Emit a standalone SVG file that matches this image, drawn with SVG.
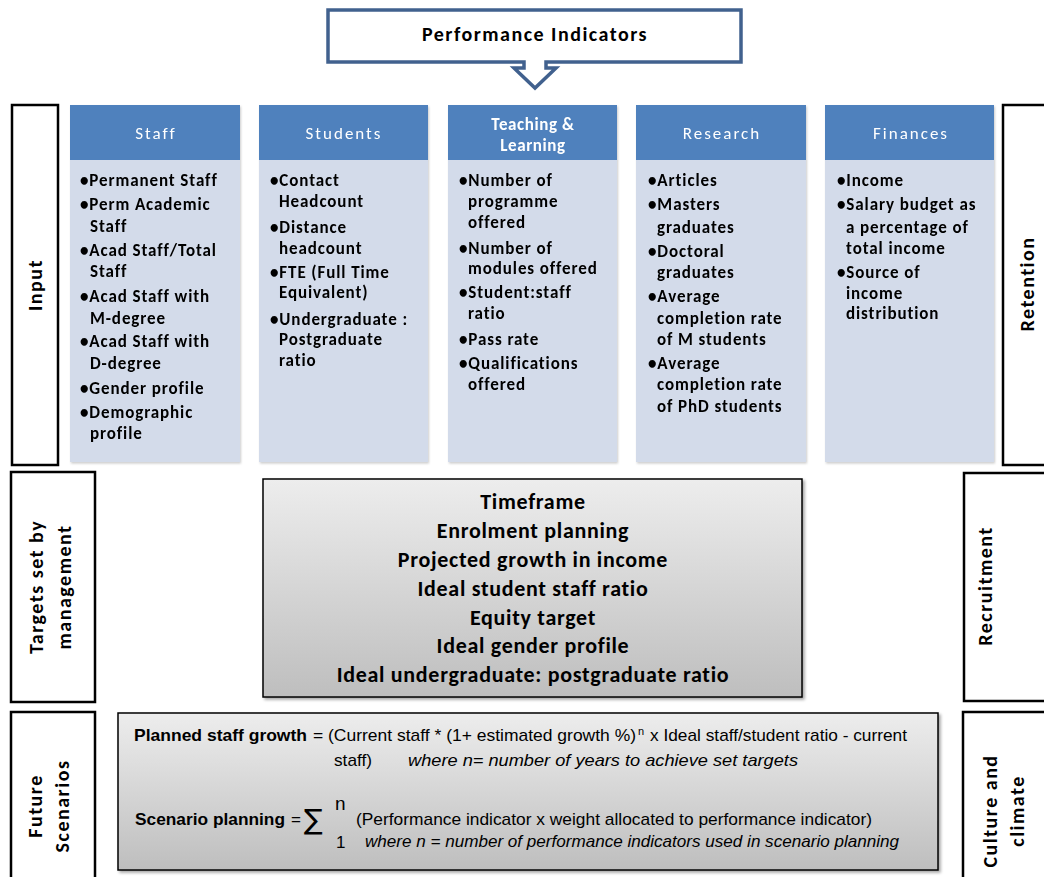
<svg xmlns="http://www.w3.org/2000/svg" width="1044" height="877" viewBox="0 0 1044 877">
<defs>
<linearGradient id="gGray" x1="0" y1="0" x2="0" y2="1">
<stop offset="0" stop-color="#EDEDED"/><stop offset="1" stop-color="#BEBEBE"/>
</linearGradient>
<filter id="sh" x="-5%" y="-5%" width="110%" height="110%">
<feDropShadow dx="2" dy="2" stdDeviation="1.5" flood-color="#000" flood-opacity="0.35"/>
</filter>
<filter id="sh2" x="-5%" y="-5%" width="110%" height="110%">
<feDropShadow dx="1" dy="1.5" stdDeviation="1" flood-color="#000" flood-opacity="0.2"/>
</filter>
</defs>
<style>
.side{fill:#fff;stroke:#000;stroke-width:2.5}
.hdr{fill:#4F81BD}
.body{fill:#D3DBEA}
.ht{font-family:Carlito,Lato,"Open Sans",sans-serif;font-size:17px;fill:#fff;text-anchor:middle;letter-spacing:2px}
.htb{font-family:Carlito,Lato,"Open Sans",sans-serif;font-size:17px;font-weight:bold;fill:#fff;text-anchor:middle;letter-spacing:0.6px}
.bt{font-family:Carlito,Lato,"Open Sans",sans-serif;font-size:17px;font-weight:bold;fill:#000;letter-spacing:0.9px}
.vl{font-family:Carlito,Lato,"Open Sans",sans-serif;font-size:20px;font-weight:bold;fill:#000;text-anchor:middle;letter-spacing:1.5px}
.tg{font-family:Carlito,Lato,"Open Sans",sans-serif;font-size:22px;font-weight:bold;fill:#000;text-anchor:middle;letter-spacing:0.7px}
.f{font-family:"Liberation Sans",Arial,sans-serif;font-size:17px;fill:#000}
.fb{font-weight:bold}
.fi{font-style:italic}
</style>

<g id="title">
<path d="M328,10 H741 V62 H546 V68 H556 L535,88 L514,68 H524 V62 H328 Z" fill="#fff" stroke="#41618E" stroke-width="3.5" stroke-linejoin="miter"/>
<text x="535" y="41" font-family="Carlito,Lato,'Open Sans',sans-serif" font-size="20" font-weight="bold" text-anchor="middle" letter-spacing="1.5">Performance Indicators</text>
</g>

<g id="input">
<rect class="side" x="12" y="105" width="46" height="360"/>
<text class="vl" transform="translate(42,285) rotate(-90)">Input</text>
</g>

<g id="retention">
<rect class="side" x="1003" y="105" width="46" height="360"/>
<text class="vl" transform="translate(1034,284) rotate(-90)">Retention</text>
</g>

<g id="staff" filter="url(#sh2)">
<rect class="body" x="70" y="160" width="170" height="302"/>
<rect class="hdr" x="70" y="105" width="170" height="55"/>
<text class="ht" x="156" y="139">Staff</text>
<text class="bt"><tspan x="80" y="186">•Permanent Staff</tspan><tspan x="80" y="210">•Perm Academic</tspan><tspan x="90" y="232">Staff</tspan><tspan x="80" y="256">•Acad Staff/Total</tspan><tspan x="90" y="277">Staff</tspan><tspan x="80" y="302">•Acad Staff with</tspan><tspan x="90" y="324">M-degree</tspan><tspan x="80" y="347">•Acad Staff with</tspan><tspan x="90" y="369">D-degree</tspan><tspan x="80" y="394">•Gender profile</tspan><tspan x="80" y="418">•Demographic</tspan><tspan x="90" y="439">profile</tspan></text>
</g>

<g id="students" filter="url(#sh2)">
<rect class="body" x="259" y="160" width="169" height="302"/>
<rect class="hdr" x="259" y="105" width="169" height="55"/>
<text class="ht" x="344" y="139">Students</text>
<text class="bt"><tspan x="270" y="186">•Contact</tspan><tspan x="279" y="207">Headcount</tspan><tspan x="270" y="233">•Distance</tspan><tspan x="279" y="254">headcount</tspan><tspan x="270" y="278">•FTE (Full Time</tspan><tspan x="279" y="298">Equivalent)</tspan><tspan x="270" y="325">•Undergraduate  :</tspan><tspan x="279" y="345">Postgraduate</tspan><tspan x="279" y="366">ratio</tspan></text>
</g>

<g id="teaching" filter="url(#sh2)">
<rect class="body" x="448" y="160" width="169" height="302"/>
<rect class="hdr" x="448" y="105" width="169" height="55"/>
<text class="htb"><tspan x="533" y="130">Teaching &amp;</tspan><tspan x="533" y="151">Learning</tspan></text>
<text class="bt"><tspan x="459" y="186">•Number of</tspan><tspan x="468" y="207">programme</tspan><tspan x="468" y="228">offered</tspan><tspan x="459" y="254">•Number of</tspan><tspan x="468" y="274">modules offered</tspan><tspan x="459" y="298">•Student:staff</tspan><tspan x="468" y="319">ratio</tspan><tspan x="459" y="345">•Pass rate</tspan><tspan x="459" y="369">•Qualifications</tspan><tspan x="468" y="390">offered</tspan></text>
</g>

<g id="research" filter="url(#sh2)">
<rect class="body" x="636" y="160" width="170" height="302"/>
<rect class="hdr" x="636" y="105" width="170" height="55"/>
<text class="ht" x="722" y="139">Research</text>
<text class="bt"><tspan x="648" y="186">•Articles</tspan><tspan x="648" y="210">•Masters</tspan><tspan x="657" y="233">graduates</tspan><tspan x="648" y="257">•Doctoral</tspan><tspan x="657" y="278">graduates</tspan><tspan x="648" y="302">•Average</tspan><tspan x="657" y="324">completion rate</tspan><tspan x="657" y="345">of M students</tspan><tspan x="648" y="369">•Average</tspan><tspan x="657" y="390">completion rate</tspan><tspan x="657" y="412">of PhD students</tspan></text>
</g>

<g id="finances" filter="url(#sh2)">
<rect class="body" x="825" y="160" width="169" height="302"/>
<rect class="hdr" x="825" y="105" width="169" height="55"/>
<text class="ht" x="911" y="139">Finances</text>
<text class="bt"><tspan x="837" y="186">•Income</tspan><tspan x="837" y="210">•Salary budget as</tspan><tspan x="846" y="233">a percentage of</tspan><tspan x="846" y="254">total income</tspan><tspan x="837" y="278">•Source of</tspan><tspan x="846" y="299">income</tspan><tspan x="846" y="319">distribution</tspan></text>
</g>

<g id="targets-label">
<rect class="side" x="11" y="472" width="84" height="230"/>
<text class="vl" transform="translate(43,587) rotate(-90)">Targets set by</text>
<text class="vl" transform="translate(71,587) rotate(-90)">management</text>
</g>

<g id="targets">
<rect x="263" y="479" width="539" height="218" fill="url(#gGray)" stroke="#000" stroke-width="1.5" filter="url(#sh)"/>
<text class="tg"><tspan x="533" y="509">Timeframe</tspan><tspan x="533" y="538">Enrolment planning</tspan><tspan x="533" y="567">Projected growth in income</tspan><tspan x="533" y="596">Ideal student staff ratio</tspan><tspan x="533" y="625">Equity target</tspan><tspan x="533" y="653">Ideal gender profile</tspan><tspan x="533" y="682">Ideal undergraduate: postgraduate ratio</tspan></text>
</g>

<g id="recruitment">
<rect class="side" x="964" y="473" width="85" height="228"/>
<text class="vl" transform="translate(992,586) rotate(-90)">Recruitment</text>
</g>

<g id="future-label">
<rect class="side" x="11" y="712" width="84" height="170"/>
<text class="vl" transform="translate(42,806) rotate(-90)">Future</text>
<text class="vl" transform="translate(69,806) rotate(-90)">Scenarios</text>
</g>

<g id="formulas">
<rect x="118" y="713" width="820" height="157" fill="url(#gGray)" stroke="#000" stroke-width="1.5" filter="url(#sh)"/>
<text class="f fb" x="134" y="741" textLength="173" lengthAdjust="spacingAndGlyphs">Planned staff growth</text>
<text class="f" x="313" y="741" textLength="323" lengthAdjust="spacingAndGlyphs">= (Current staff  * (1+ estimated  growth %)</text>
<text class="f" x="638" y="735" style="font-size:11px">n</text>
<text class="f" x="650" y="741" textLength="257" lengthAdjust="spacingAndGlyphs">x Ideal staff/student  ratio  - current</text>
<text class="f" x="334" y="766" textLength="38" lengthAdjust="spacingAndGlyphs">staff)</text>
<text class="f fi" x="408" y="766" textLength="390" lengthAdjust="spacingAndGlyphs">where n= number of years to achieve  set targets</text>
<text class="f fb" x="135" y="825" textLength="150" lengthAdjust="spacingAndGlyphs">Scenario planning</text>
<text class="f" x="291" y="825">=</text>
<text x="304" y="829" style="font-family:'DejaVu Sans',sans-serif;font-size:28px">∑</text>
<text class="f" x="335" y="810" style="font-size:19px">n</text>
<text class="f" x="336" y="848">1</text>
<text class="f" x="356" y="825" textLength="516" lengthAdjust="spacingAndGlyphs">(Performance  indicator  x weight allocated  to performance  indicator)</text>
<text class="f fi" x="365" y="847" textLength="534" lengthAdjust="spacingAndGlyphs">where n = number of performance indicators used in scenario planning</text>
</g>

<g id="culture">
<rect class="side" x="963" y="712" width="86" height="170"/>
<text class="vl" transform="translate(997,811) rotate(-90)">Culture and</text>
<text class="vl" transform="translate(1024,811) rotate(-90)">climate</text>
</g>

<g id="connectors"></g>
</svg>
